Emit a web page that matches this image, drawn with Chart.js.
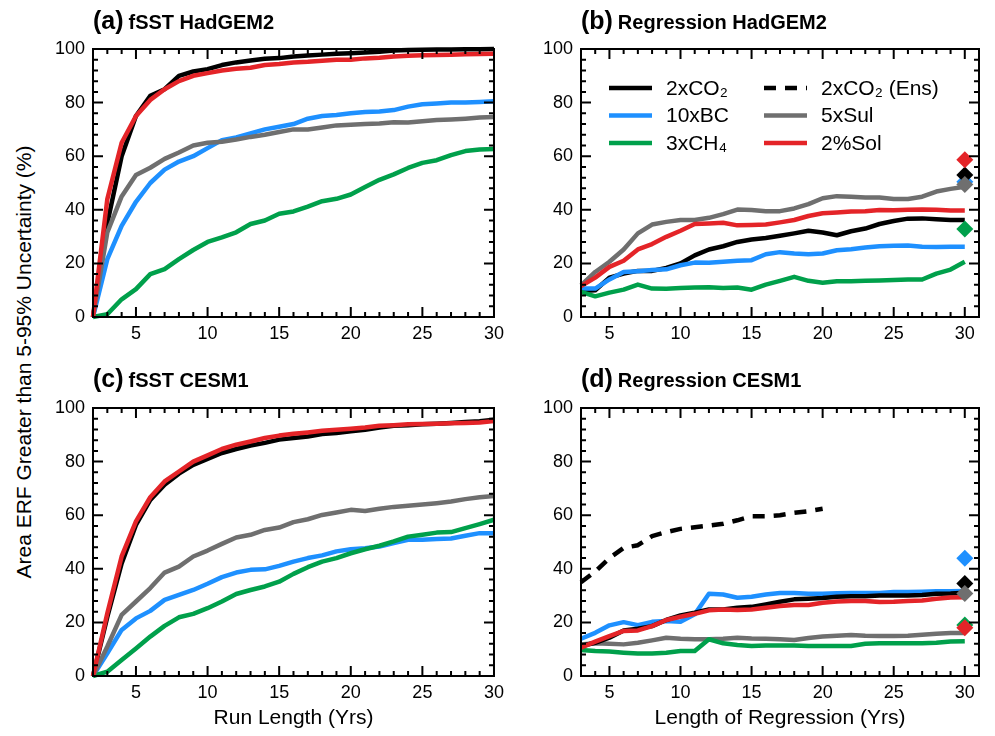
<!DOCTYPE html>
<html>
<head>
<meta charset="utf-8">
<script src="https://cdn.jsdelivr.net/npm/chart.js@4.4.1/dist/chart.umd.min.js"></script>
<style>
  body { margin: 0; background: #fff; width: 995px; height: 736px; position: relative; overflow: hidden; font-family: 'Liberation Sans', Arial, sans-serif; }
  canvas { position: absolute; }
  #ylabel { position: absolute; left: 24px; top: 362px; transform: translate(-50%, -50%) rotate(-90deg); font-size: 21px; white-space: nowrap; color: #000; }
</style>
</head>
<body>
<div id="ylabel">Area ERF Greater than 5-95% Uncertainty (%)</div>
<canvas id="chartA" width="470" height="350" style="left:40px;top:0px"></canvas>
<canvas id="chartB" width="467" height="350" style="left:528px;top:0px"></canvas>
<canvas id="chartC" width="470" height="376" style="left:40px;top:360px"></canvas>
<canvas id="chartD" width="467" height="376" style="left:528px;top:360px"></canvas>
<script>
// x values
const runLen = [2, 3, 4, 5, 6, 7, 8, 9, 10, 11, 12, 13, 14, 15, 16, 17, 18, 19, 20, 21, 22, 23, 24, 25, 26, 27, 28, 29, 30];
const regLen = [3, 4, 5, 6, 7, 8, 9, 10, 11, 12, 13, 14, 15, 16, 17, 18, 19, 20, 21, 22, 23, 24, 25, 26, 27, 28, 29, 30];
const xTickLabels = [5, 10, 15, 20, 25, 30];
const yTickLabels = [0, 20, 40, 60, 80, 100];

// (a) fSST HadGEM2
const aCO2 = [0, 35, 60, 75, 82.5, 85, 90, 91.6, 92.5, 94, 95, 95.7, 96.4, 96.6, 97.2, 97.6, 97.9, 98.2, 98.4, 98.7, 99, 99.4, 99.6, 99.7, 99.8, 99.8, 99.9, 99.9, 100];
const aBC = [0, 21.6, 34, 43, 50, 55, 58, 60, 63, 66, 67, 68.5, 70, 71, 72, 74, 75, 75.4, 76, 76.5, 76.7, 77.2, 78.5, 79.4, 79.7, 80, 80, 80.2, 80.5];
const aCH4 = [0, 1, 6.6, 10.4, 16, 17.9, 21.6, 25, 28, 29.7, 31.6, 34.7, 36, 38.5, 39.4, 41.2, 43.2, 44.1, 45.7, 48.5, 51.2, 53.2, 55.6, 57.5, 58.5, 60.4, 61.9, 62.5, 62.7];
const aSul = [0, 31.6, 45, 53, 55.7, 59, 61.4, 64, 65, 65.4, 66.2, 67.2, 68, 69, 70, 70, 70.7, 71.5, 71.7, 72, 72.2, 72.7, 72.6, 73, 73.5, 73.7, 74, 74.4, 74.6];
const aSol = [0, 44, 65, 75, 81, 85, 88, 90, 91, 92, 92.6, 93, 94, 94.4, 95, 95.2, 95.6, 96, 96, 96.5, 96.7, 97.2, 97.5, 97.7, 97.8, 97.9, 98, 98.1, 98.2];

// (b) Regression HadGEM2
const bCO2 = [9.7, 10, 14.7, 16.2, 17.2, 17.2, 18.3, 20, 23, 25.2, 26.4, 28, 28.9, 29.5, 30.3, 31.2, 32.2, 31.5, 30.5, 32, 33, 34.7, 35.8, 36.7, 36.8, 36.5, 36.2, 36.2];
const bBC = [10.6, 10.6, 14, 16.8, 17.1, 17.5, 17.8, 19.3, 20.3, 20.2, 20.6, 21, 21.2, 23.4, 24.2, 23.7, 23.4, 23.7, 24.9, 25.3, 25.9, 26.4, 26.6, 26.7, 26.2, 26.1, 26.2, 26.2];
const bCH4 = [9.4, 7.7, 9.1, 10.2, 12.1, 10.6, 10.5, 10.8, 11, 11.1, 10.8, 11, 10.2, 12.1, 13.5, 15, 13.5, 12.8, 13.3, 13.3, 13.5, 13.6, 13.8, 14, 14, 16.2, 17.7, 20.6];
const bSul = [11.8, 16.8, 20.6, 25.2, 31.2, 34.5, 35.5, 36.2, 36.2, 37, 38.4, 40.1, 39.9, 39.5, 39.5, 40.5, 42.1, 44.3, 45.1, 44.9, 44.6, 44.6, 44, 44, 44.9, 46.8, 47.8, 48.6];
const bSol = [11.5, 14.7, 18.7, 21, 25.2, 27.2, 29.9, 32.2, 34.7, 34.9, 35.2, 34.2, 34.3, 34.5, 35.3, 36.2, 37.7, 38.7, 39, 39.4, 39.5, 39.9, 39.8, 40, 40.1, 40, 39.7, 39.7];
const bDiamonds = { co2: 53, bc: 50.5, ch4: 32.8, sul: 49.4, sol: 58.7 };

// (c) fSST CESM1
const cCO2 = [0, 22, 42, 56.4, 65.7, 71.4, 75.5, 78.8, 81, 83.2, 84.7, 86, 87, 88.2, 88.8, 89.4, 90.3, 90.7, 91.3, 91.9, 92.7, 93.4, 93.6, 93.9, 94.1, 94.4, 94.8, 95.1, 95.6];
const cBC = [0, 8.5, 17.2, 21.5, 24.3, 28.4, 30.3, 32.1, 34.4, 36.9, 38.6, 39.6, 39.8, 41.1, 42.7, 44, 45, 46.5, 47.3, 47.7, 48.3, 49.6, 50.8, 50.8, 51.1, 51.3, 52.3, 53.3, 53.3];
const cCH4 = [0, 1.6, 6, 10.3, 14.7, 18.7, 21.9, 23.2, 25.3, 27.8, 30.6, 32.1, 33.4, 35.2, 38.1, 40.6, 42.7, 44, 45.8, 47.3, 48.6, 50.2, 52, 52.7, 53.5, 53.7, 55.2, 56.7, 58.3];
const cSul = [0, 11, 22.8, 27.8, 32.8, 38.6, 40.8, 44.6, 46.8, 49.3, 51.7, 52.7, 54.5, 55.4, 57.4, 58.5, 60.1, 61, 62, 61.6, 62.4, 63.1, 63.5, 64, 64.5, 65.1, 66, 66.7, 67.2];
const cSol = [0, 23.4, 44.6, 57.7, 66.7, 72.6, 76.3, 80, 82.3, 84.7, 86.3, 87.5, 88.8, 89.7, 90.4, 90.9, 91.5, 91.9, 92.3, 92.7, 93.4, 93.6, 93.9, 94, 94.1, 94.3, 94.4, 94.6, 95.1];

// (d) Regression CESM1
const dEns = [35, 39, 44, 47.8, 48.8, 52.2, 53.7, 54.9, 55.5, 56.1, 56.8, 58.1, 59.6, 59.6, 60, 60.9, 61.5, 62.4];
const dCO2 = [11.2, 12.4, 14.3, 17, 17.6, 18.6, 20.9, 22.6, 23.6, 24.8, 24.8, 25.5, 25.8, 26.7, 27.7, 28.6, 28.8, 29.1, 29.6, 29.8, 29.8, 30, 30, 30, 30.2, 30.7, 30.8, 31.1];
const dBC = [13.9, 16.1, 18.9, 20.1, 19, 20.2, 20.5, 20.2, 23, 30.7, 30.4, 29.2, 29.6, 30.4, 31, 31, 30.7, 30.7, 30.9, 31, 31, 31, 31.3, 31.3, 31.4, 31.6, 31.6, 31.7];
const dCH4 = [9.7, 9.3, 9.1, 8.7, 8.4, 8.4, 8.7, 9.3, 9.3, 13.7, 12.2, 11.6, 11.2, 11.4, 11.4, 11.4, 11.2, 11.2, 11.2, 11.2, 12, 12.2, 12.2, 12.2, 12.2, 12.4, 12.9, 13];
const dSul = [11.8, 12.2, 12, 11.8, 12.4, 13.3, 14.3, 13.9, 13.7, 13.7, 13.9, 14.3, 14, 13.9, 13.7, 13.4, 14.2, 14.7, 15, 15.3, 15, 14.9, 14.9, 15, 15.4, 15.8, 16, 16];
const dSol = [10.6, 12.8, 14.9, 16.8, 17, 18.6, 20.9, 22.1, 23.2, 24.5, 24.8, 24.6, 24.8, 25.5, 26.1, 26.5, 26.5, 27.3, 27.8, 28, 28, 27.6, 27.7, 28, 28.2, 28.8, 29.3, 29.4];
const dDiamonds = { co2: 34.5, bc: 43.9, ch4: 19, sul: 30.8, sol: 18 };

const COLORS = { co2: '#000000', ens: '#000000', bc: '#1e90ff', ch4: '#00a04b', sul: '#6f6f6f', sol: '#e42428' };
const LABELS = { co2: '2xCO₂', bc: '10xBC', ch4: '3xCH₄', sul: '5xSul', sol: '2%Sol', ens: '2xCO₂ (Ens)' };
const FONT = "'Liberation Sans', Arial, Helvetica, sans-serif";
const LINE_W = 4.5;
const ENS_DASH = [12, 9];

const pts = (xs, ys) => ys.map((y, i) => ({ x: xs[i], y }));

function lineSet(key, xs, ys, dash) {
  return {
    label: LABELS[key], data: pts(xs, ys),
    borderColor: COLORS[key], backgroundColor: COLORS[key],
    borderWidth: LINE_W, borderDash: dash || [], pointRadius: 0, tension: 0,
    borderCapStyle: 'butt', borderJoinStyle: 'round', clip: false
  };
}

function diamondSet(key, y) {
  return {
    label: LABELS[key] + ' diamond', data: [{ x: 30, y }], showLine: false,
    pointStyle: 'rectRot', pointRadius: 8.5, pointBorderWidth: 0,
    pointBackgroundColor: COLORS[key], borderColor: COLORS[key], clip: false
  };
}

// frame + inward ticks on all four sides
const frameTicks = {
  id: 'frameTicks',
  afterDatasetsDraw(chart) {
    const { ctx, chartArea: a, scales: { x, y } } = chart;
    ctx.save();
    ctx.strokeStyle = '#000';
    ctx.lineWidth = 2;
    ctx.beginPath();
    for (let v = Math.ceil(x.min); v <= x.max; v++) {
      const px = x.getPixelForValue(v);
      const len = v % 5 === 0 ? 10 : 5;
      ctx.moveTo(px, a.bottom); ctx.lineTo(px, a.bottom - len);
      ctx.moveTo(px, a.top); ctx.lineTo(px, a.top + len);
    }
    for (let v = 0; v <= 100; v += 4) {
      const py = y.getPixelForValue(v);
      const len = v % 20 === 0 ? 10 : 5;
      ctx.moveTo(a.left, py); ctx.lineTo(a.left + len, py);
      ctx.moveTo(a.right, py); ctx.lineTo(a.right - len, py);
    }
    ctx.stroke();
    ctx.strokeRect(a.left, a.top, a.right - a.left, a.bottom - a.top);
    ctx.restore();
  }
};

const panelTitle = {
  id: 'panelTitle',
  afterDraw(chart, args, opts) {
    const { ctx, chartArea: a } = chart;
    ctx.save();
    ctx.fillStyle = '#000';
    ctx.textBaseline = 'alphabetic';
    ctx.textAlign = 'left';
    ctx.font = 'bold 25px ' + FONT;
    ctx.fillText(opts.tag, a.left, opts.y);
    const w = ctx.measureText(opts.tag + ' ').width;
    ctx.font = 'bold 20px ' + FONT;
    ctx.fillText(opts.text, a.left + w - 2, opts.y);
    ctx.restore();
  }
};

const boxLegend = {
  id: 'boxLegend',
  afterDraw(chart, args, opts) {
    if (!opts.items) return;
    const { ctx, chartArea: a } = chart;
    ctx.save();
    ctx.font = '21px ' + FONT;
    ctx.textBaseline = 'middle';
    ctx.fillStyle = '#000';
    opts.items.forEach((label, i) => {
      const ds = chart.data.datasets.find(d => d.label === label);
      const col = Math.floor(i / 3), row = i % 3;
      const x0 = a.left + 28 + col * 155;
      const yc = a.top + 39 + row * 27.5;
      ctx.strokeStyle = ds.borderColor;
      ctx.lineWidth = LINE_W;
      ctx.setLineDash(ds.borderDash || []);
      ctx.beginPath();
      ctx.moveTo(x0, yc); ctx.lineTo(x0 + 43, yc);
      ctx.stroke();
      ctx.setLineDash([]);
      ctx.fillText(label, x0 + 57, yc + 1);
    });
    ctx.restore();
  }
};

function makeChart(id, cfg) {
  return new Chart(document.getElementById(id), {
    type: 'line',
    data: { datasets: cfg.datasets },
    plugins: [frameTicks, panelTitle, boxLegend],
    options: {
      responsive: false,
      animation: false,
      layout: { padding: { top: cfg.padTop, right: cfg.padRight, left: 0, bottom: 0 } },
      plugins: {
        legend: { display: false },
        tooltip: { enabled: false },
        panelTitle: { tag: cfg.tag, text: cfg.title, y: cfg.titleY },
        boxLegend: { items: cfg.legend }
      },
      scales: {
        x: {
          type: 'linear', min: cfg.xMin, max: cfg.xMax,
          grid: { display: false, drawTicks: false }, border: { display: false },
          afterBuildTicks: s => { s.ticks = xTickLabels.map(v => ({ value: v })); },
          afterFit: s => { s.height = cfg.xHeight; },
          ticks: { color: '#000', font: { family: FONT, size: 18 }, padding: 6, maxRotation: 0, autoSkip: false },
          title: { display: !!cfg.xTitle, text: cfg.xTitle, color: '#000', font: { family: FONT, size: 21 }, padding: { top: 0, bottom: 5 } }
        },
        y: {
          type: 'linear', min: 0, max: 100,
          grid: { display: false, drawTicks: false }, border: { display: false },
          afterBuildTicks: s => { s.ticks = yTickLabels.map(v => ({ value: v })); },
          afterFit: s => { s.width = 53; },
          ticks: { color: '#000', font: { family: FONT, size: 18 }, padding: 8 }
        }
      }
    }
  });
}

// datasets listed bottom-to-top, then reversed (Chart.js paints index 0 last)
const fsstSets = (co2, bc, ch4, sul, sol) => [
  lineSet('co2', runLen, co2), lineSet('bc', runLen, bc), lineSet('ch4', runLen, ch4),
  lineSet('sul', runLen, sul), lineSet('sol', runLen, sol)
].reverse();

makeChart('chartA', {
  datasets: fsstSets(aCO2, aBC, aCH4, aSul, aSol),
  xMin: 2, xMax: 30, padTop: 49, padRight: 9, xHeight: 33,
  tag: '(a)', title: 'fSST HadGEM2', titleY: 29
});

makeChart('chartB', {
  datasets: [
    lineSet('ens', [], [], ENS_DASH),
    lineSet('co2', regLen, bCO2), lineSet('bc', regLen, bBC), lineSet('ch4', regLen, bCH4),
    lineSet('sul', regLen, bSul), lineSet('sol', regLen, bSol),
    diamondSet('bc', bDiamonds.bc), diamondSet('co2', bDiamonds.co2), diamondSet('sul', bDiamonds.sul),
    diamondSet('ch4', bDiamonds.ch4), diamondSet('sol', bDiamonds.sol)
  ].reverse(),
  xMin: 3, xMax: 31, padTop: 49, padRight: 16, xHeight: 33,
  tag: '(b)', title: 'Regression HadGEM2', titleY: 29,
  legend: [LABELS.co2, LABELS.bc, LABELS.ch4, LABELS.ens, LABELS.sul, LABELS.sol]
});

makeChart('chartC', {
  datasets: fsstSets(cCO2, cBC, cCH4, cSul, cSol),
  xMin: 2, xMax: 30, padTop: 48, padRight: 9, xHeight: 60,
  tag: '(c)', title: 'fSST CESM1', titleY: 27, xTitle: 'Run Length (Yrs)'
});

makeChart('chartD', {
  datasets: [
    lineSet('sul', regLen, dSul), lineSet('ch4', regLen, dCH4), lineSet('bc', regLen, dBC),
    lineSet('co2', regLen, dCO2), lineSet('sol', regLen, dSol),
    lineSet('ens', regLen.slice(0, dEns.length), dEns, ENS_DASH),
    diamondSet('bc', dDiamonds.bc), diamondSet('co2', dDiamonds.co2), diamondSet('sul', dDiamonds.sul),
    diamondSet('ch4', dDiamonds.ch4), diamondSet('sol', dDiamonds.sol)
  ].reverse(),
  xMin: 3, xMax: 31, padTop: 48, padRight: 16, xHeight: 60,
  tag: '(d)', title: 'Regression CESM1', titleY: 27, xTitle: 'Length of Regression (Yrs)'
});
</script>
</body>
</html>
